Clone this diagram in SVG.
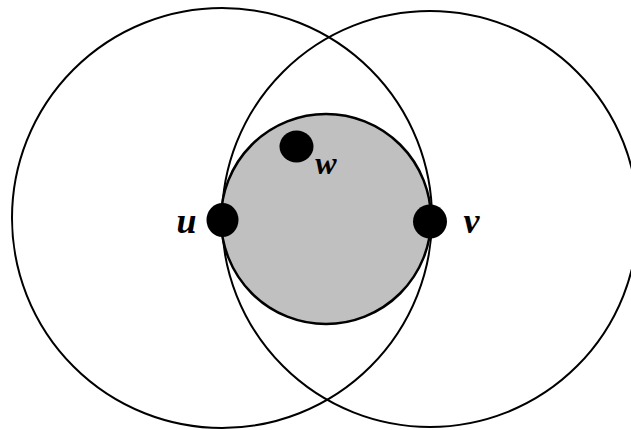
<svg xmlns="http://www.w3.org/2000/svg" width="631" height="430" viewBox="0 0 631 430">
<style>
.ring{fill:none;stroke:#000;stroke-width:2}
.disk{fill:#c0c0c0;stroke:#000;stroke-width:2.5}
.dot{fill:#000}
.lbl{font-family:"Liberation Serif",serif;font-weight:bold;font-style:italic;fill:#000;text-anchor:middle}
</style>
<rect width="631" height="430" fill="#fff"/>
<g id="connectors">
<circle class="ring" cx="222" cy="218" r="210"/>
<circle class="ring" cx="430" cy="219" r="208"/>
</g>
<g id="region">
<circle class="disk" cx="326" cy="219" r="105"/>
</g>
<g id="node-u">
<ellipse class="dot" cx="222.5" cy="220" rx="16" ry="17"/>
<text class="lbl" x="186.5" y="233" font-size="36">u</text>
</g>
<g id="node-v">
<ellipse class="dot" cx="430" cy="221.5" rx="17" ry="17"/>
<text class="lbl" x="471.5" y="233" font-size="36">v</text>
</g>
<g id="node-w">
<ellipse class="dot" cx="296.5" cy="146.5" rx="17" ry="16"/>
<text class="lbl" x="326" y="174" font-size="32">w</text>
</g>
</svg>
